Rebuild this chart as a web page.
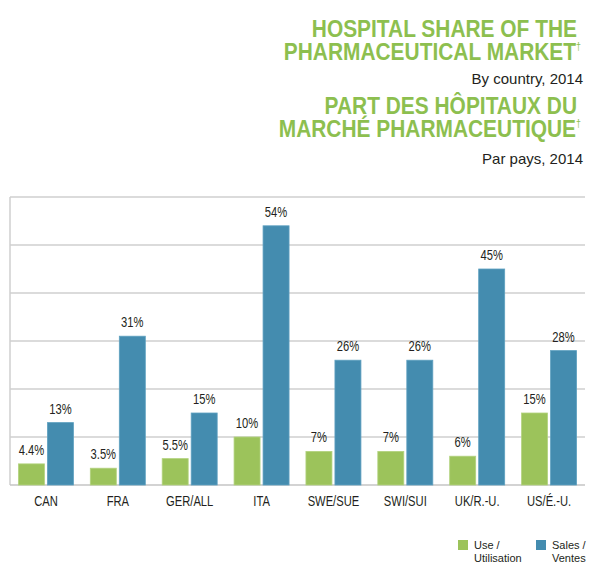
<!DOCTYPE html>
<html>
<head>
<meta charset="utf-8">
<script src="https://cdn.jsdelivr.net/npm/d3@7"></script>
<style>
  body { margin: 0; background: #fff; }
  svg { display: block; }
</style>
</head>
<body>
<div id="chart"></div>
<script>
const width = 600;
const height = 580;
const margin = { top: 197, right: 15, bottom: 95, left: 10 };

const countries = ["CAN", "FRA", "GER/ALL", "ITA", "SWE/SUE", "SWI/SUI", "UK/R.-U.", "US/É.-U."];
const useValues = [4.4, 3.5, 5.5, 10, 7, 7, 6, 15];
const salesValues = [13, 31, 15, 54, 26, 26, 45, 28];
const useLabels = ["4.4%", "3.5%", "5.5%", "10%", "7%", "7%", "6%", "15%"];
const salesLabels = ["13%", "31%", "15%", "54%", "26%", "26%", "45%", "28%"];
const gridTicks = [10, 20, 30, 40, 50, 60];

const green = "#9cc35b";
const blue = "#448caf";
const titleGreen = "#8dbf4f";
const font = "'Liberation Sans', Arial, sans-serif";
const squeeze = 0.8; // fake the condensed face, no narrow font installed

const svg = d3
  .select("#chart")
  .append("svg")
  .attr("width", width)
  .attr("height", height)
  .attr("viewBox", [0, 0, width, height]);

// titles, right aligned
const titles = [
  { text: "HOSPITAL SHARE OF THE", y: 37, big: true },
  { text: "PHARMACEUTICAL MARKET", y: 60, big: true, dagger: true },
  { text: "By country, 2014", y: 84, big: false },
  { text: "PART DES HÔPITAUX DU", y: 114, big: true },
  { text: "MARCHÉ PHARMACEUTIQUE", y: 137, big: true, dagger: true },
  { text: "Par pays, 2014", y: 164, big: false },
];

for (let t of titles) {
  const xPos = t.big ? (t.dagger ? 581 : 577) : 583;
  const txt = svg
    .append("text")
    .attr("transform", `translate(${xPos},${t.y}) scale(${t.big ? 0.89 : 1},1)`)
    .attr("text-anchor", "end")
    .style("font-family", font)
    .style("font-size", t.big ? "23.5px" : "15px")
    .style("font-weight", t.big ? "bold" : "normal")
    .attr("fill", t.big ? titleGreen : "#231f20")
    .text(t.text);
  if (t.dagger) {
    txt
      .append("tspan")
      .attr("dy", -10)
      .style("font-size", "10px")
      .style("font-weight", "normal")
      .text("†");
  }
}

let x = d3
  .scaleBand()
  .domain(countries)
  .range([margin.left, width - margin.right])
  .padding(0);

let y = d3
  .scaleLinear()
  .domain([0, 60])
  .range([height - margin.bottom, margin.top]);

const barW = 26;
const gap = 3;

// gridlines
svg
  .append("g")
  .attr("class", "grid")
  .selectAll("line")
  .data(gridTicks)
  .join("line")
  .attr("x1", margin.left)
  .attr("x2", width - margin.right)
  .attr("y1", (d) => y(d))
  .attr("y2", (d) => y(d))
  .attr("stroke", "#cfcfcf")
  .attr("stroke-width", 1.5);

// left border + baseline
svg
  .append("line")
  .attr("x1", margin.left)
  .attr("x2", margin.left)
  .attr("y1", y(60))
  .attr("y2", y(0))
  .attr("stroke", "#cfcfcf")
  .attr("stroke-width", 1.5);

svg
  .append("line")
  .attr("x1", margin.left)
  .attr("x2", width - margin.right)
  .attr("y1", y(0))
  .attr("y2", y(0))
  .attr("stroke", "#c4c4c4")
  .attr("stroke-width", 1.5);

const center = (c) => x(c) + x.bandwidth() / 2;

const series = [
  { values: useValues, labels: useLabels, color: green, stroke: "#b3d37f", dx: -gap / 2 - barW },
  { values: salesValues, labels: salesLabels, color: blue, stroke: "#5fa1c0", dx: gap / 2 },
];

for (let s of series) {
  const g = svg.append("g");
  g.selectAll("rect")
    .data(countries)
    .join("rect")
    .attr("x", (d) => center(d) + s.dx)
    .attr("y", (d, i) => y(s.values[i]))
    .attr("width", barW)
    .attr("height", (d, i) => y(0) - y(s.values[i]))
    .attr("fill", s.color)
    .attr("stroke", s.stroke)
    .attr("stroke-width", 0.8);

  g.selectAll("text")
    .data(countries)
    .join("text")
    .attr(
      "transform",
      (d, i) =>
        `translate(${center(d) + s.dx + barW / 2},${y(s.values[i]) - 9}) scale(${squeeze},1)`
    )
    .attr("text-anchor", "middle")
    .style("font-family", font)
    .style("font-size", "14px")
    .attr("fill", "#231f20")
    .text((d, i) => s.labels[i]);
}

// x axis labels
svg
  .append("g")
  .selectAll("text")
  .data(countries)
  .join("text")
  .attr("transform", (d) => `translate(${center(d)},${y(0) + 21}) scale(${squeeze},1)`)
  .attr("text-anchor", "middle")
  .style("font-family", font)
  .style("font-size", "14px")
  .attr("fill", "#231f20")
  .text((d) => d);

// legend
const legend = [
  { lines: ["Use /", "Utilisation"], color: green, x: 458 },
  { lines: ["Sales /", "Ventes"], color: blue, x: 536 },
];

for (let l of legend) {
  const g = svg.append("g").attr("transform", `translate(${l.x},540)`);
  g.append("rect").attr("width", 10).attr("height", 10).attr("fill", l.color);
  g.append("text")
    .attr("x", 16)
    .attr("y", 8.5)
    .style("font-family", font)
    .style("font-size", "11px")
    .attr("fill", "#231f20")
    .selectAll("tspan")
    .data(l.lines)
    .join("tspan")
    .attr("x", 16)
    .attr("dy", (d, i) => (i === 0 ? 0 : 13.5))
    .text((d) => d);
}
</script>
</body>
</html>
